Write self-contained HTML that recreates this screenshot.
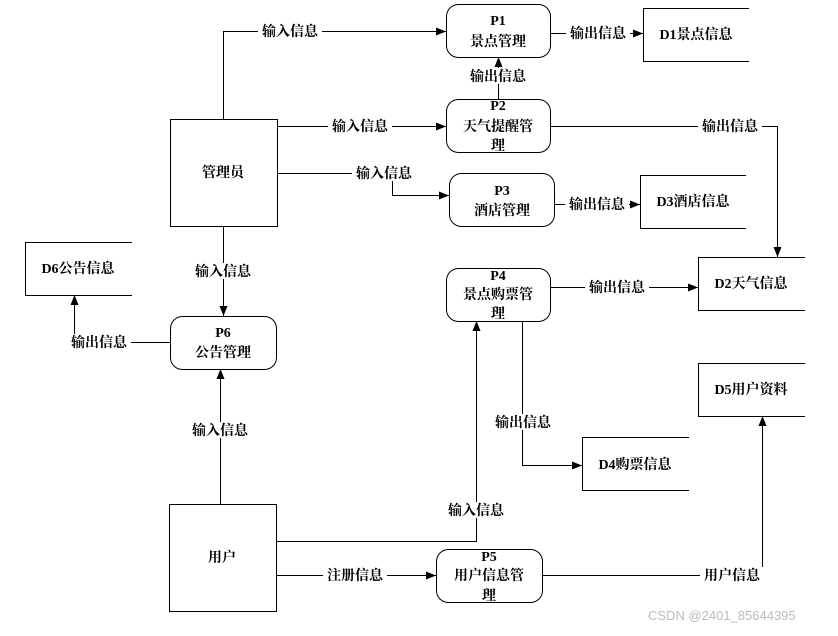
<!DOCTYPE html>
<html><head><meta charset="utf-8"><style>
html,body{margin:0;padding:0;background:#fff;}
svg text{font-family:"Liberation Serif","Noto Serif CJK SC",serif;font-weight:bold;font-size:14px;fill:#000;}
</style></head><body>
<svg width="838" height="631" viewBox="0 0 838 631" xmlns="http://www.w3.org/2000/svg">
<defs><marker id="a" markerWidth="10" markerHeight="8" refX="10" refY="4" orient="auto" markerUnits="userSpaceOnUse"><path d="M0,0 L10,4 L0,8 Z" fill="#000"/></marker></defs>
<g fill="none" stroke="#000" stroke-width="1">
<!-- external entities -->
<rect x="170.5" y="119.5" width="107" height="107"/>
<rect x="169.5" y="504.5" width="107" height="107"/>
<!-- processes -->
<rect x="446.5" y="4.5" width="104" height="53" rx="12"/>
<rect x="446.5" y="99.5" width="104" height="53" rx="12"/>
<rect x="449.5" y="173.5" width="105" height="53" rx="12"/>
<rect x="446.5" y="268.5" width="104" height="53" rx="12"/>
<rect x="170.5" y="316.5" width="106" height="53" rx="12"/>
<rect x="436.5" y="549.5" width="106" height="53" rx="12"/>
<!-- data stores -->
<path d="M749,8.5H643.5V61.5H749"/>
<path d="M746,175.5H640.5V228.5H746"/>
<path d="M805,257.5H698.5V310.5H805"/>
<path d="M132,242.5H25.5V295.5H132"/>
<path d="M805,363.5H698.5V416.5H805"/>
<path d="M689,437.5H582.5V490.5H689"/>
<!-- flows -->
<path d="M223.5,119V31.5H446" marker-end="url(#a)"/>
<path d="M550,33.5H643" marker-end="url(#a)"/>
<path d="M498.5,99V57" marker-end="url(#a)"/>
<path d="M277,126.5H446" marker-end="url(#a)"/>
<path d="M550,126.5H777.5V257" marker-end="url(#a)"/>
<path d="M277,173.5H392.5V195.5H449" marker-end="url(#a)"/>
<path d="M554,204.5H640" marker-end="url(#a)"/>
<path d="M223.5,226V316" marker-end="url(#a)"/>
<path d="M170,342.5H74.5V295" marker-end="url(#a)"/>
<path d="M550,287.5H698" marker-end="url(#a)"/>
<path d="M522.5,321V465.5H582" marker-end="url(#a)"/>
<path d="M220.5,504V369" marker-end="url(#a)"/>
<path d="M276,541.5H476.5V321" marker-end="url(#a)"/>
<path d="M276,575.5H436" marker-end="url(#a)"/>
<path d="M542,575.5H762.5V416" marker-end="url(#a)"/>
</g>
<!-- label backgrounds -->
<g fill="#fff">
<rect x="258" y="23" width="64" height="16"/>
<rect x="566" y="25" width="64" height="16"/>
<rect x="466" y="68" width="64" height="16"/>
<rect x="328" y="118" width="64" height="16"/>
<rect x="698" y="118" width="64" height="16"/>
<rect x="352" y="165" width="64" height="16"/>
<rect x="565" y="196" width="64" height="16"/>
<rect x="191" y="263" width="64" height="16"/>
<rect x="67" y="334" width="64" height="16"/>
<rect x="585" y="279" width="64" height="16"/>
<rect x="491" y="414" width="64" height="16"/>
<rect x="188" y="422" width="64" height="16"/>
<rect x="444" y="502" width="64" height="16"/>
<rect x="323" y="567" width="64" height="16"/>
<rect x="700" y="567" width="64" height="16"/>
</g>
<g text-anchor="middle">
<text x="290" y="36">输入信息</text>
<text x="598" y="38">输出信息</text>
<text x="498" y="81">输出信息</text>
<text x="360" y="131">输入信息</text>
<text x="730" y="131">输出信息</text>
<text x="384" y="178">输入信息</text>
<text x="597" y="209">输出信息</text>
<text x="223" y="276">输入信息</text>
<text x="99" y="347">输出信息</text>
<text x="617" y="292">输出信息</text>
<text x="523" y="427">输出信息</text>
<text x="220" y="435">输入信息</text>
<text x="476" y="515">输入信息</text>
<text x="355" y="580">注册信息</text>
<text x="732" y="580">用户信息</text>
<text x="498" y="25">P1</text><text x="498" y="46">景点管理</text>
<text x="498" y="110">P2</text><text x="498" y="131">天气提醒管</text><text x="498" y="150">理</text>
<text x="502" y="195">P3</text><text x="502" y="215">酒店管理</text>
<text x="498" y="280">P4</text><text x="498" y="299">景点购票管</text><text x="498" y="318">理</text>
<text x="223" y="337">P6</text><text x="223" y="357">公告管理</text>
<text x="489" y="561">P5</text><text x="489" y="580">用户信息管</text><text x="489" y="600">理</text>
<text x="223" y="177">管理员</text>
<text x="222" y="562">用户</text>
<text x="696" y="39">D1景点信息</text>
<text x="693" y="206">D3酒店信息</text>
<text x="751" y="288">D2天气信息</text>
<text x="78" y="273">D6公告信息</text>
<text x="751" y="394">D5用户资料</text>
<text x="635" y="469">D4购票信息</text>
</g>
<text x="648" y="620" style="font-family:'Liberation Sans',sans-serif;font-weight:normal;font-size:13px;fill:#bbb;">CSDN @2401_85644395</text>
</svg>
</body></html>
